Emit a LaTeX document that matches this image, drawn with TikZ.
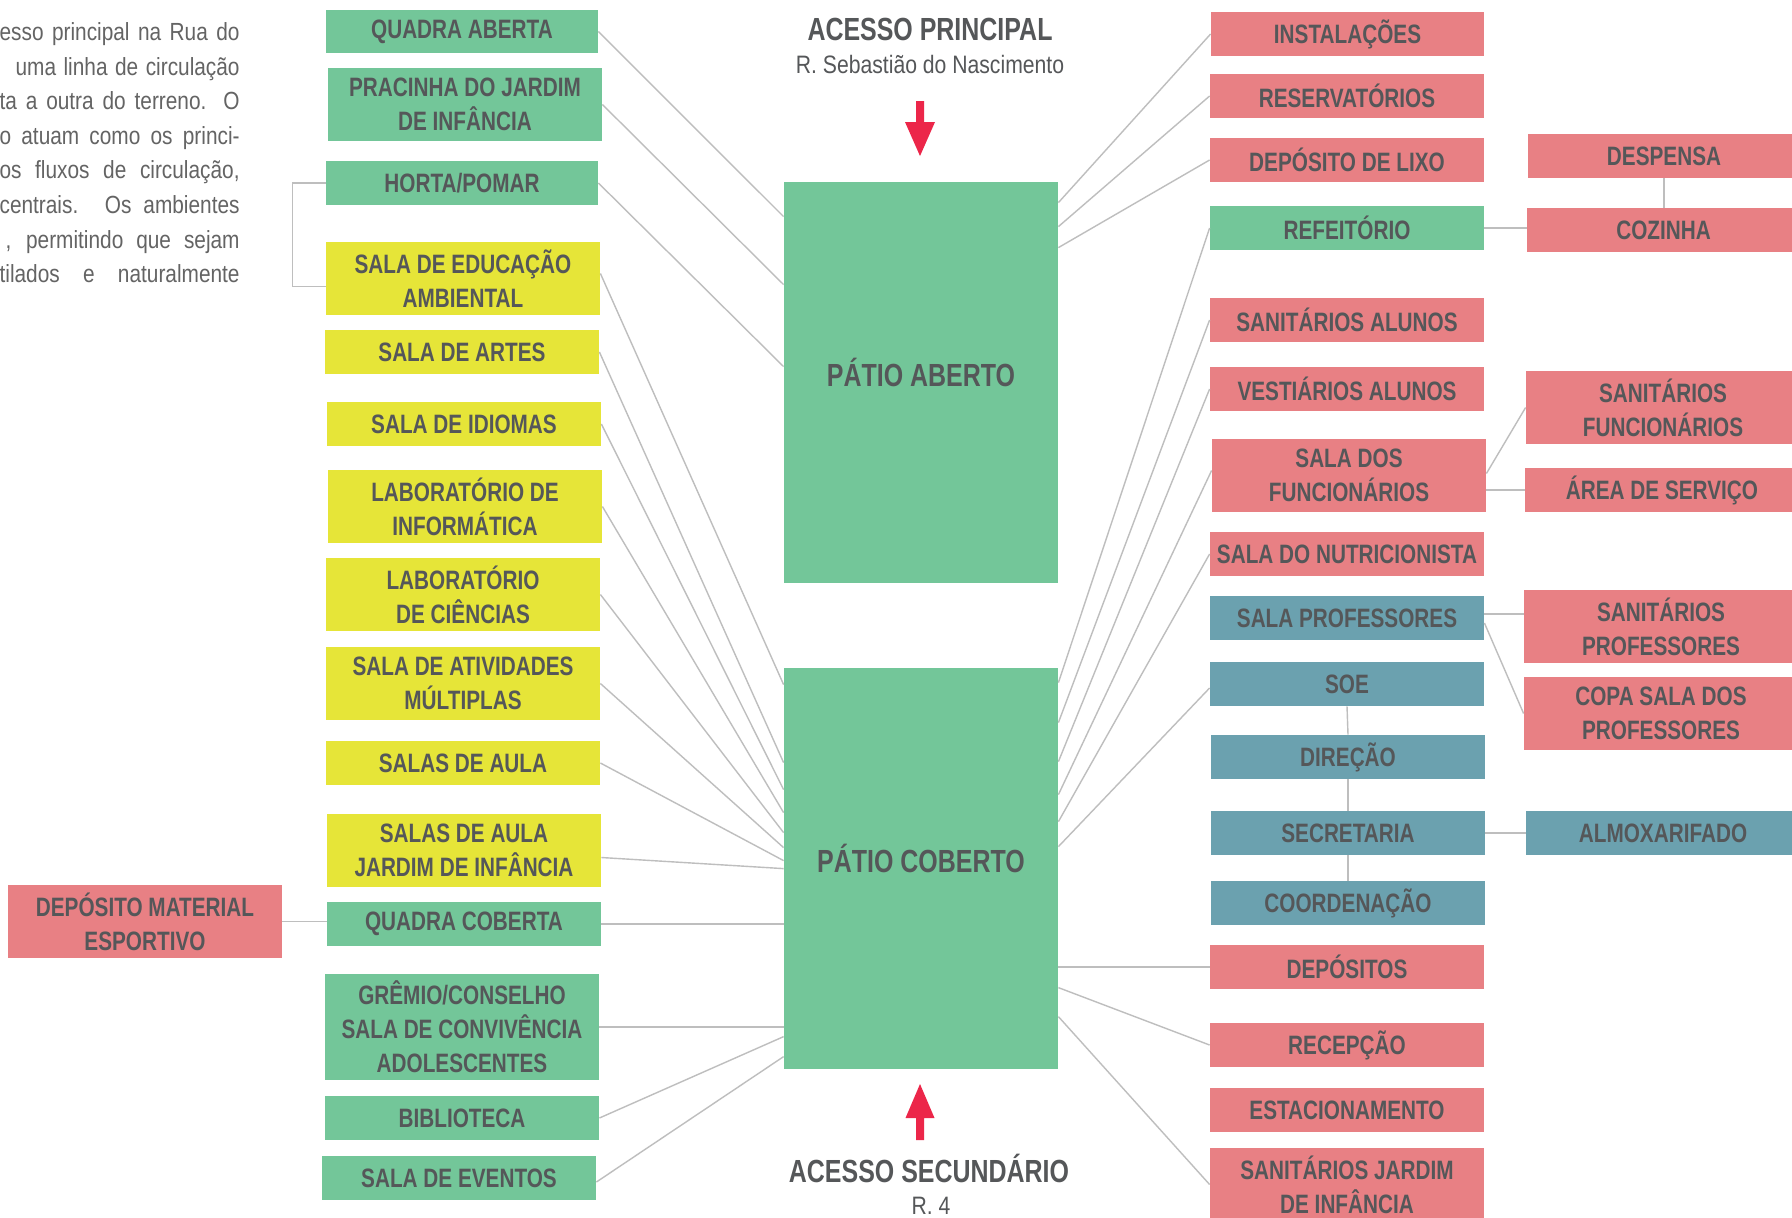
\documentclass[tikz,border=0pt]{standalone}
\usepackage{fontspec}
\setmainfont{Liberation Sans}
\newfontfamily\cb[FakeStretch=0.78]{Liberation Sans}
\newfontfamily\cl[FakeStretch=0.84]{Liberation Sans}
\usetikzlibrary{calc}
\definecolor{gr}{RGB}{115,198,153}
\definecolor{ye}{RGB}{230,229,56}
\definecolor{pk}{RGB}{232,128,132}
\definecolor{tl}{RGB}{107,161,175}
\definecolor{txt}{RGB}{85,87,89}
\definecolor{ptxt}{RGB}{100,100,100}
\definecolor{ln}{RGB}{190,190,190}
\definecolor{arr}{RGB}{236,38,73}
\newcommand\mkbox[7]{\node[bx,fill=#6,minimum width={(#4-#2)*0.5pt},minimum height={(#5-#3)*0.5pt}] (#1) at ({(#2+#4)/2},{(#3+#5)/2}) {#7};}
\begin{document}
\begin{tikzpicture}[x=0.5pt,y=-0.5pt,
  bx/.style={draw=none,inner sep=0pt,align=center,text=txt,font=\cb\bfseries\fontsize{13.3}{17}\selectfont},
  conn/.style={draw=ln,line width=0.7pt},
  ttl/.style={text=txt,inner sep=0pt,anchor=base,font=\cb\bfseries\fontsize{16}{19}\selectfont},
  sub/.style={text=txt,inner sep=0pt,anchor=base,font=\cl\fontsize{12.6}{15}\selectfont},
  para/.style={text=ptxt,inner sep=0pt,anchor=base east,font=\cl\fontsize{12.4}{15}\selectfont}]
\useasboundingbox (0,0) rectangle (1792,1217);
\fill[white] (0,0) rectangle (1792,1217);

% paragraph (cut at left edge)
\node[para] (p1) at (240,40)  {\makebox[120pt][s]{esso principal na Rua do}};
\node[para] (p2) at (240,75)  {\makebox[112pt][s]{uma linha de circulação}};
\node[para] (p3) at (240,109) {\makebox[120pt][s]{ta a outra do terreno. O}};
\node[para] (p4) at (240,144) {\makebox[120pt][s]{o atuam como os princi-}};
\node[para] (p5) at (240,178) {\makebox[120pt][s]{os fluxos de circulação,}};
\node[para] (p6) at (240,213) {\makebox[120pt][s]{centrais. Os ambientes}};
\node[para] (p7) at (240,248) {\makebox[117pt][s]{, permitindo que sejam}};
\node[para] (p8) at (240,282) {\makebox[120pt][s]{tilados e naturalmente}};

% titles
\node[ttl] (t1) at (930,40) {ACESSO PRINCIPAL};
\node[sub] (t2) at (930,73) {R. Sebastião do Nascimento};
\node[ttl] (t3) at (929,1182) {ACESSO SECUNDÁRIO};
\node[sub] (t4) at (931,1214) {R. 4};

% arrows
\fill[arr] (916,101) -- (924,101) -- (924,122) -- (935,122) -- (920,156) -- (905,122) -- (916,122) -- cycle;
\fill[arr] (916,1140) -- (924,1140) -- (924,1118) -- (934.5,1118) -- (920,1084) -- (905.5,1118) -- (916,1118) -- cycle;

% central patios
\mkbox{pa}{784}{182}{1058}{583}{gr}{}
\mkbox{pc}{784}{668}{1058}{1069}{gr}{}
\node[ttl] (pal) at (921,386) {PÁTIO ABERTO};
\node[ttl] (pcl) at (921,872) {PÁTIO COBERTO};

% left column
\mkbox{qa}{326}{10}{598}{53}{gr}{QUADRA ABERTA}
\mkbox{pr}{328}{68}{602}{141}{gr}{PRACINHA DO JARDIM\\DE INFÂNCIA}
\mkbox{ho}{326}{161}{598}{205}{gr}{HORTA/POMAR}
\mkbox{ed}{326}{242}{600}{315}{ye}{SALA DE EDUCAÇÃO\\AMBIENTAL}
\mkbox{ar}{325}{330}{599}{374}{ye}{SALA DE ARTES}
\mkbox{id}{327}{402}{601}{446}{ye}{SALA DE IDIOMAS}
\mkbox{li}{328}{470}{602}{543}{ye}{LABORATÓRIO DE\\INFORMÁTICA}
\mkbox{lc}{326}{558}{600}{631}{ye}{LABORATÓRIO\\DE CIÊNCIAS}
\mkbox{am}{326}{647}{600}{720}{ye}{SALA DE ATIVIDADES\\MÚLTIPLAS}
\mkbox{sa}{326}{741}{600}{785}{ye}{SALAS DE AULA}
\mkbox{sj}{327}{814}{601}{887}{ye}{SALAS DE AULA\\JARDIM DE INFÂNCIA}
\mkbox{qc}{327}{902}{601}{946}{gr}{QUADRA COBERTA}
\mkbox{dm}{8}{885}{282}{958}{pk}{DEPÓSITO MATERIAL\\ESPORTIVO}
\mkbox{gc}{325}{974}{599}{1080}{gr}{GRÊMIO/CONSELHO\\SALA DE CONVIVÊNCIA\\ADOLESCENTES}
\mkbox{bi}{325}{1096}{599}{1140}{gr}{BIBLIOTECA}
\mkbox{ev}{322}{1156}{596}{1200}{gr}{SALA DE EVENTOS}

% right column
\mkbox{ri}{1211}{12}{1484}{56}{pk}{INSTALAÇÕES}
\mkbox{rs}{1210}{74}{1484}{118}{pk}{RESERVATÓRIOS}
\mkbox{lx}{1210}{138}{1484}{182}{pk}{DEPÓSITO DE LIXO}
\mkbox{rf}{1210}{206}{1484}{250}{gr}{REFEITÓRIO}
\mkbox{dp}{1528}{134}{1800}{178}{pk}{DESPENSA}
\mkbox{cz}{1527}{208}{1800}{252}{pk}{COZINHA}
\mkbox{sal}{1210}{298}{1484}{342}{pk}{SANITÁRIOS ALUNOS}
\mkbox{va}{1210}{367}{1484}{411}{pk}{VESTIÁRIOS ALUNOS}
\mkbox{sf}{1212}{439}{1486}{512}{pk}{SALA DOS\\FUNCIONÁRIOS}
\mkbox{sfn}{1526}{371}{1800}{444}{pk}{SANITÁRIOS\\FUNCIONÁRIOS}
\mkbox{ase}{1525}{468}{1799}{512}{pk}{ÁREA DE SERVIÇO}
\mkbox{nu}{1210}{532}{1484}{576}{pk}{SALA DO NUTRICIONISTA}
\mkbox{sp}{1210}{596}{1484}{640}{tl}{SALA PROFESSORES}
\mkbox{spr}{1524}{590}{1798}{663}{pk}{SANITÁRIOS\\PROFESSORES}
\mkbox{cp}{1524}{677}{1798}{750}{pk}{COPA SALA DOS\\PROFESSORES}
\mkbox{so}{1210}{662}{1484}{706}{tl}{SOE}
\mkbox{di}{1211}{735}{1485}{779}{tl}{DIREÇÃO}
\mkbox{se}{1211}{811}{1485}{855}{tl}{SECRETARIA}
\mkbox{al}{1526}{811}{1800}{855}{tl}{ALMOXARIFADO}
\mkbox{co}{1211}{881}{1485}{925}{tl}{COORDENAÇÃO}
\mkbox{de}{1210}{945}{1484}{989}{pk}{DEPÓSITOS}
\mkbox{re}{1210}{1023}{1484}{1067}{pk}{RECEPÇÃO}
\mkbox{es}{1210}{1088}{1484}{1132}{pk}{ESTACIONAMENTO}
\mkbox{sji}{1210}{1148}{1484}{1221}{pk}{SANITÁRIOS JARDIM\\DE INFÂNCIA}

% connectors left -> patio aberto
\draw[conn] (qa.east) -- ($(pa.north west)+(0,35)$);
\draw[conn] (pr.east) -- ($(pa.north west)+(0,103)$);
\draw[conn] (ho.east) -- ($(pa.north west)+(0,185)$);
% left -> patio coberto
\draw[conn] ($(ed.east)+(0,-5)$) -- ($(pc.north west)+(0,17)$);
\draw[conn] (ar.east) -- ($(pc.north west)+(0,95)$);
\draw[conn] (id.east) -- ($(pc.north west)+(0,122)$);
\draw[conn] (li.east) -- ($(pc.north west)+(0,145)$);
\draw[conn] (lc.east) -- ($(pc.north west)+(0,165)$);
\draw[conn] (am.east) -- ($(pc.north west)+(0,180)$);
\draw[conn] (sa.east) -- ($(pc.north west)+(0,193)$);
\draw[conn] ($(sj.east)+(0,7)$) -- ($(pc.north west)+(0,201)$);
\draw[conn] (qc.east) -- (qc.east -| pc.west);
\draw[conn] (gc.east) -- (gc.east -| pc.west);
\draw[conn] (bi.east) -- ($(pc.north west)+(0,369)$);
\draw[conn] ($(ev.east)+(0,4)$) -- ($(pc.north west)+(0,389)$);
% left secondary
\draw[conn] (dm.east) -- (dm.east -| qc.west);
\draw[conn] (ho.west) -- ++(-33,0) |- ($(ed.west)+(0,8)$);

% patio aberto -> right
\draw[conn] ($(pa.north east)+(0,21)$) -- (ri.west);
\draw[conn] ($(pa.north east)+(0,45)$) -- (rs.west);
\draw[conn] ($(pa.north east)+(0,66)$) -- (lx.west);
% patio coberto -> right
\draw[conn] ($(pc.north east)+(0,15)$) -- (rf.west);
\draw[conn] ($(pc.north east)+(0,55)$) -- (sal.west);
\draw[conn] ($(pc.north east)+(0,94)$) -- (va.west);
\draw[conn] ($(pc.north east)+(0,127)$) -- ($(sf.west)+(0,-5)$);
\draw[conn] ($(pc.north east)+(0,154)$) -- (nu.west);
\draw[conn] ($(pc.north east)+(0,179)$) -- ($(so.west)+(0,4)$);
\draw[conn] (de.west -| pc.east) -- (de.west);
\draw[conn] ($(pc.north east)+(0,320)$) -- (re.west);
\draw[conn] ($(pc.north east)+(0,349)$) -- (sji.west);

% right secondary
\draw[conn] (dp.south) -- (dp.south |- cz.north);
\draw[conn] (rf.east) -- (rf.east -| cz.west);
\draw[conn] ($(sf.east)+(0,-2)$) -- (sfn.west);
\draw[conn] (ase.west -| sf.east) -- (ase.west);
\draw[conn] ($(sp.east)+(0,-4)$) -- ($(sp.east -| spr.west)+(0,-4)$);
\draw[conn] ($(sp.east)+(0,5)$) -- (cp.west);
\draw[conn] (so.south) -- (di.north);
\draw[conn] (di.south) -- (se.north);
\draw[conn] (se.south) -- (co.north);
\draw[conn] (se.east) -- (al.west);
\end{tikzpicture}
\end{document}
